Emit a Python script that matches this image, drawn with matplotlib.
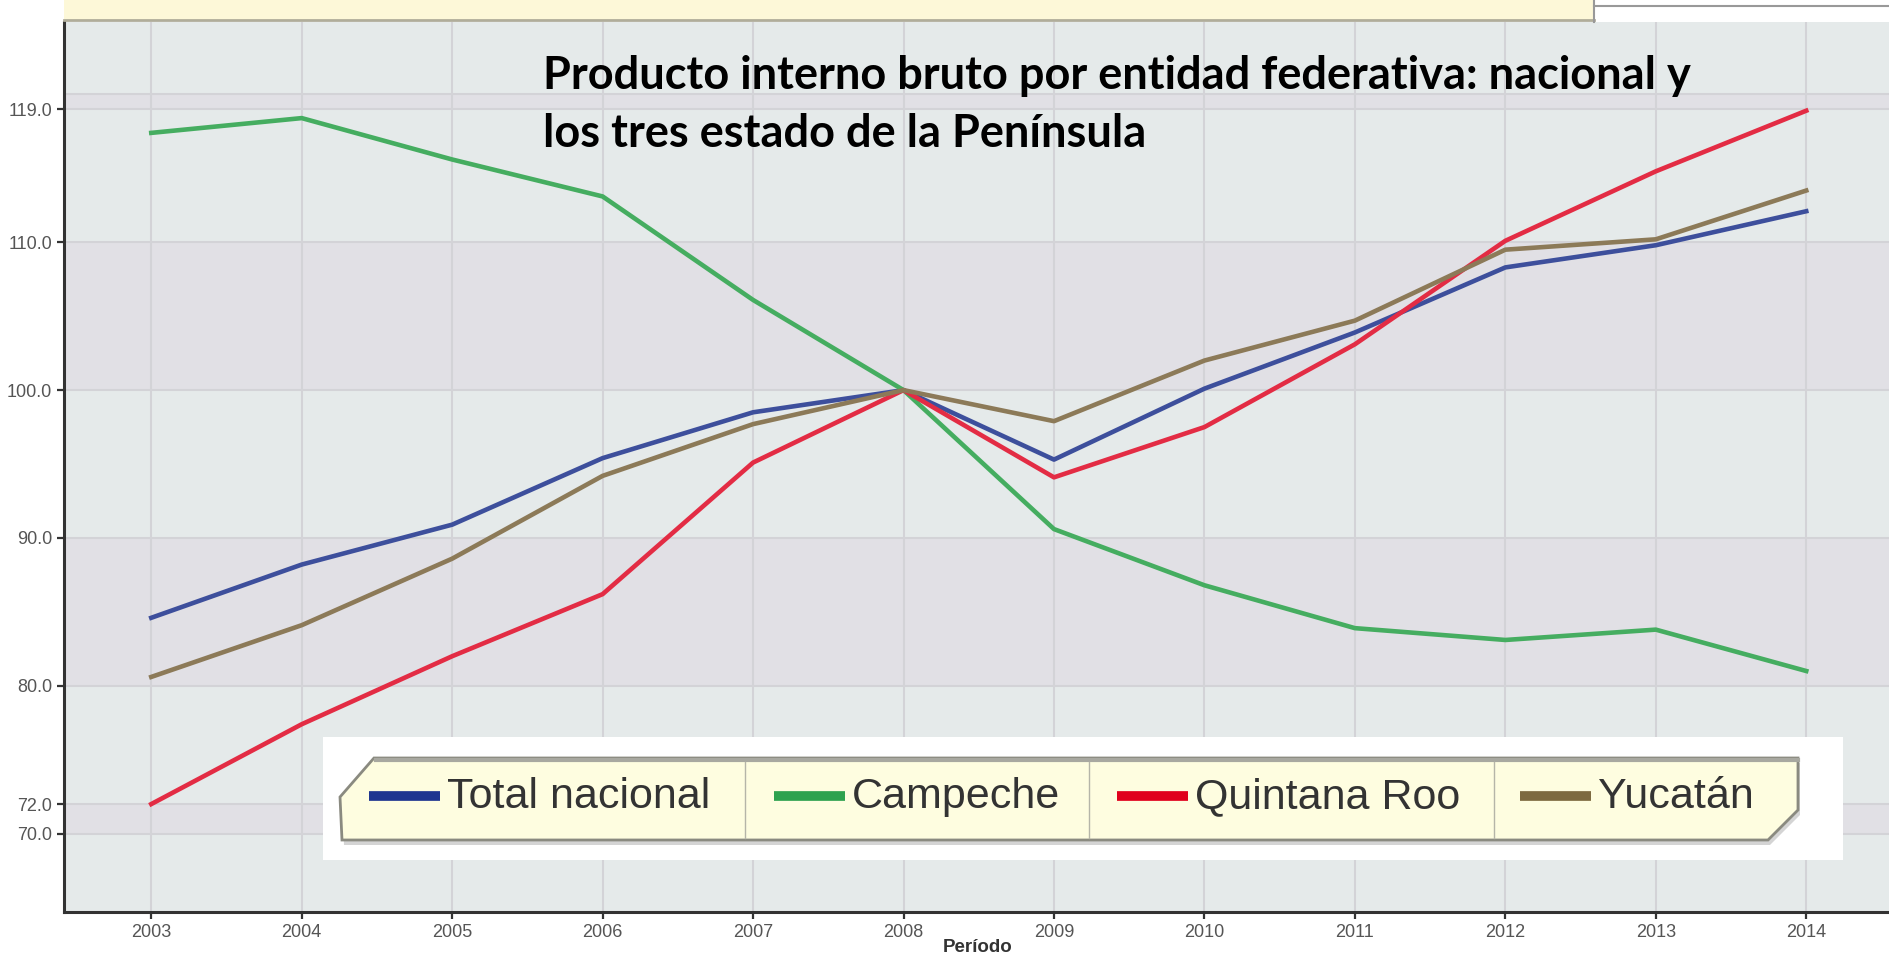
import matplotlib
matplotlib.use("Agg")
import matplotlib.pyplot as plt
from matplotlib.patches import Rectangle, Polygon
from matplotlib import font_manager

# data
years = [2003, 2004, 2005, 2006, 2007, 2008, 2009, 2010, 2011, 2012, 2013, 2014]
total_nacional = [84.6, 88.2, 90.9, 95.4, 98.5, 100.0, 95.3, 100.1, 103.9, 108.3, 109.8, 112.1]
campeche = [117.4, 118.4, 115.6, 113.1, 106.1, 100.0, 90.6, 86.8, 83.9, 83.1, 83.8, 81.0]
quintana_roo = [72.0, 77.4, 82.0, 86.2, 95.1, 100.0, 94.1, 97.5, 103.1, 110.1, 114.8, 118.9]
yucatan = [80.6, 84.1, 88.6, 94.2, 97.7, 100.0, 97.9, 102.0, 104.7, 109.5, 110.2, 113.5]

series_names = ["Total nacional", "Campeche", "Quintana Roo", "Yucatán"]
series_colors = ["#3d4f9c", "#45ad60", "#e32c44", "#8c7a58"]
legend_colors = ["#1f3690", "#2ea24f", "#e0001c", "#7d6a40"]

y_ticks = [70, 72, 80, 90, 100, 110, 119]
y_grid = [70, 72, 80, 90, 100, 110, 119, 120]

W, H = 1889, 957
fig = plt.figure(figsize=(W / 100, H / 100), dpi=100)
fig.patch.set_facecolor("white")

def fx(px):
    return px / W

def fy(py):
    return 1 - py / H

ax = fig.add_axes([fx(64), fy(912), 1 - fx(64), (912 - 22) / H])
light = "#e5eaea"
dark = "#e1e0e5"
ax.set_facecolor(light)

# alternating bands between grid values
bounds = sorted(y_grid)
for i in range(len(bounds) - 1):
    if (len(bounds) - 2 - i) % 2 == 0:
        ax.axhspan(bounds[i], bounds[i + 1], color=dark, lw=0, zorder=0)

for g in y_grid:
    ax.axhline(g, color="#d3d3d7", lw=1.5, zorder=1)
for yr in years:
    ax.axvline(yr, color="#d3d3d7", lw=1.5, zorder=1)

for vals, col in zip([total_nacional, campeche, quintana_roo, yucatan], series_colors):
    ax.plot(years, vals, color=col, lw=3.3, zorder=3, solid_joinstyle="round")

ax.set_xlim(2002.42, 2014.55)
ax.set_ylim(64.7, 124.9)
ax.set_xticks(years)
ax.set_xticklabels([str(y) for y in years])
ax.set_yticks(y_ticks)
ax.set_yticklabels([f"{v:.1f}" for v in y_ticks])
ax.tick_params(axis="both", colors="#333333", labelcolor="#555555", labelsize=13,
               length=5, width=1.6, direction="out")
for lab in ax.get_xticklabels() + ax.get_yticklabels():
    lab.set_fontfamily("Liberation Sans")
for s in ["top", "right"]:
    ax.spines[s].set_visible(False)
for s in ["left", "bottom"]:
    ax.spines[s].set_color("#333333")
    ax.spines[s].set_linewidth(2.2)

fig.text(fx(978), fy(948), "Período", ha="center", va="center", fontsize=13.5,
         fontweight="bold", color="#333333", family="Liberation Sans")

# top strip (yellow box and white box of the screenshot)
fig.patches.append(Rectangle((fx(64), fy(20)), fx(1594 - 64), 20 / H, transform=fig.transFigure,
                             facecolor="#fdf8d8", edgecolor="none", zorder=5))
fig.add_artist(plt.Line2D([fx(64), fx(1594)], [fy(20), fy(20)], color="#b0ad9a", lw=2,
                          transform=fig.transFigure, zorder=6))
fig.patches.append(Rectangle((fx(1594), fy(6)), fx(W - 1594), 6 / H, transform=fig.transFigure,
                             facecolor="white", edgecolor="none", zorder=5))
fig.add_artist(plt.Line2D([fx(1594), fx(1594)], [fy(0), fy(22)], color="#999999", lw=1.5,
                          transform=fig.transFigure, zorder=6))
fig.add_artist(plt.Line2D([fx(1594), fx(W)], [fy(6), fy(6)], color="#999999", lw=1.5,
                          transform=fig.transFigure, zorder=6))

# title
title_font = "Lato"
fig.text(fx(543), fy(89), "Producto interno bruto por entidad federativa: nacional y",
         ha="left", va="baseline", fontsize=32.5, fontweight="bold", color="black", family=title_font)
fig.text(fx(543), fy(147), "los tres estado de la Península",
         ha="left", va="baseline", fontsize=32.5, fontweight="bold", color="black", family=title_font)

# legend block
fig.patches.append(Rectangle((fx(323), fy(860)), fx(1843 - 323), (860 - 737) / H,
                             transform=fig.transFigure, facecolor="white", edgecolor="none", zorder=7))
pts = [(374, 758), (1798, 758), (1798, 810), (1768, 840), (342, 840), (340, 797)]
fig.patches.append(Polygon([(fx(x) + 2 / W, fy(y) - 5 / H) for x, y in pts], closed=True,
                           transform=fig.transFigure, facecolor="#d4d4d4", edgecolor="none", zorder=7.5))
fig.patches.append(Polygon([(fx(x), fy(y)) for x, y in pts], closed=True, transform=fig.transFigure,
                           facecolor="#fefde0", edgecolor="#8a8a80", lw=2, zorder=8))
fig.add_artist(plt.Line2D([fx(376), fx(1798)], [fy(760), fy(760)], color="#a8a8a0", lw=3,
                          transform=fig.transFigure, zorder=8.5))
for dx in [745, 1089, 1494]:
    fig.add_artist(plt.Line2D([fx(dx), fx(dx)], [fy(762), fy(838)], color="#b5b5a8", lw=1,
                              transform=fig.transFigure, zorder=9))

names = [f.name for f in font_manager.fontManager.ttflist]
narrow = "Liberation Sans Narrow" in names
leg_family = "Liberation Sans Narrow" if narrow else "Liberation Sans"
leg_size = 38 if narrow else 31
sw_x = [369, 774, 1117, 1520]
for x0, name, col in zip(sw_x, series_names, legend_colors):
    fig.add_artist(plt.Line2D([fx(x0), fx(x0 + 71)], [fy(796), fy(796)], color=col, lw=7,
                              solid_capstyle="butt", transform=fig.transFigure, zorder=9))
    fig.text(fx(x0 + 78), fy(797), name, ha="left", va="center", fontsize=leg_size,
             color="#333333", family=leg_family, zorder=9)

fig.savefig("out.png", dpi=100)
